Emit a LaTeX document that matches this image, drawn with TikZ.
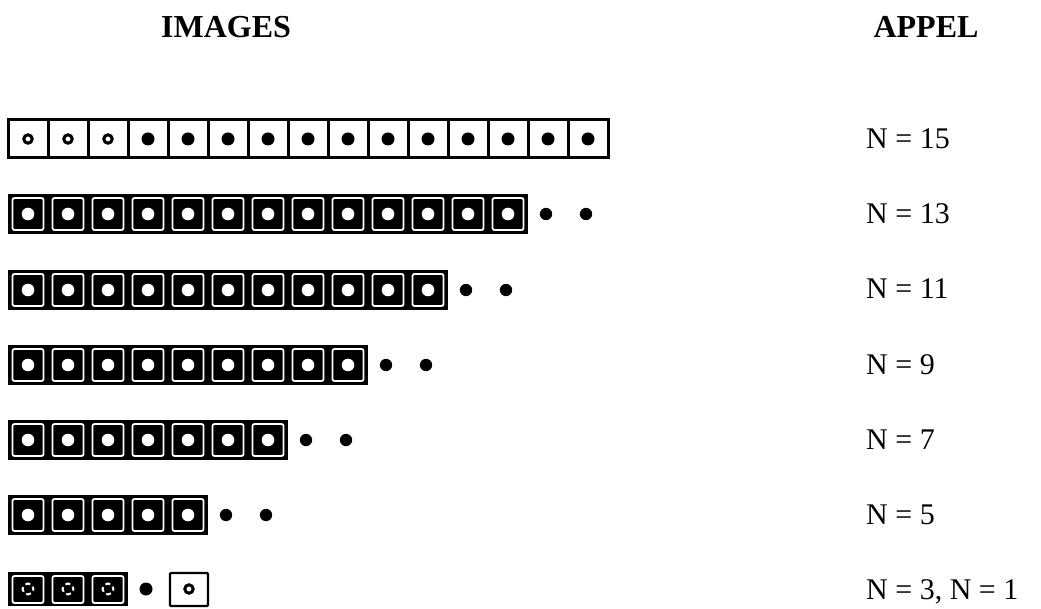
\documentclass[tikz,border=0pt]{standalone}
\usepackage{fontspec}
\setmainfont{Liberation Serif}
\begin{document}
\begin{tikzpicture}[x=1pt,y=-1pt,
  title/.style={font=\bfseries\fontsize{32}{36}\selectfont, inner sep=0pt},
  lab/.style={font=\fontsize{30}{34}\selectfont, anchor=base west, inner sep=0pt},
  blackbar/.style={fill=black},
  innersq/.style={draw=white, line width=1.8pt, rounded corners=2pt},
  whitedot/.style={fill=white},
  blackdot/.style={fill=black},
  ring/.style={draw=black, line width=3pt},
  wring/.style={draw=white, line width=2pt, dash pattern=on 5pt off 3.64pt, dash phase=2.5pt},
  framecell/.style={draw=black, line width=3pt},
]
\useasboundingbox (0,0) rectangle (1041,609);

% titles
\node[title] (t1) at (226,27) {IMAGES};
\node[title] (t2) at (926,27) {APPEL};

% row 1 : 15 white cells
\foreach \i in {0,...,14} {
  \draw[framecell] ({8+40*\i},120) rectangle ({48+40*\i},158);
}
\foreach \i in {0,1,2} {
  \draw[ring] ({28+40*\i},139) circle (4.2pt);
}
\foreach \i in {3,...,14} {
  \fill[blackdot] ({28+40*\i},139) circle (6.5pt);
}

% rows 2-6 : black bars
\foreach \n/\yc in {13/214, 11/290, 9/365, 7/440, 5/515} {
  \fill[blackbar] (8,\yc-20) rectangle ({8+40*\n},\yc+20);
  \foreach \i in {1,...,\n} {
    \draw[innersq] ({8+40*(\i-1)+4.5},\yc-16) rectangle ({8+40*\i-4.5},\yc+16);
    \fill[whitedot] ({28+40*(\i-1)},\yc) circle (6.3pt);
  }
  \fill[blackdot] ({8+40*\n+18},\yc) circle (6.2pt);
  \fill[blackdot] ({8+40*\n+58},\yc) circle (6.2pt);
}

% row 7
\fill[blackbar] (8,572) rectangle (128,606);
\foreach \i in {0,1,2} {
  \draw[innersq] ({8+40*\i+4.5},576) rectangle ({48+40*\i-4.5},603);
  \draw[wring] ({28+40*\i},589) circle (5.5pt);
}
\fill[blackdot] (146,589) circle (6.5pt);
\draw[draw=black, line width=2.2pt, rounded corners=1pt] (170,573) rectangle (208,606);
\draw[ring] (189,589) circle (4.2pt);

% labels
\node[lab] (n15) at (866,149) {N = 15};
\node[lab] (n13) at (866,224) {N = 13};
\node[lab] (n11) at (866,299) {N = 11};
\node[lab] (n9)  at (866,374) {N = 9};
\node[lab] (n7)  at (866,449) {N = 7};
\node[lab] (n5)  at (866,524) {N = 5};
\node[lab] (n3)  at (866,599) {N = 3, N = 1};
\end{tikzpicture}
\end{document}
